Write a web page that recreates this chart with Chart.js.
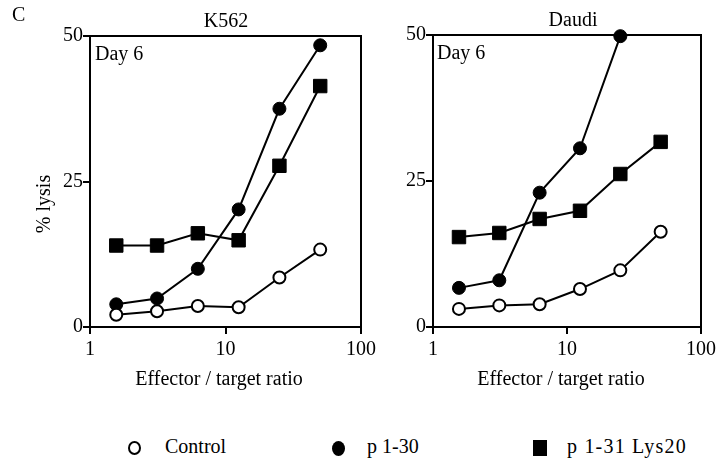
<!DOCTYPE html>
<html>
<head>
<meta charset="utf-8">
<script src="https://cdn.jsdelivr.net/npm/chart.js@4/dist/chart.umd.min.js"></script>
<style>
    body { margin: 0; background: #fff; width: 720px; height: 464px; position: relative; overflow: hidden;
           font-family: "Liberation Serif", "Times New Roman", serif; color: #000; }
    canvas { position: absolute; top: 0; }
    #k562Chart { left: 0; }
    #daudiChart { left: 380px; }
    .lg-text { position: absolute; top: 436px; font-size: 20px; line-height: 20px; white-space: nowrap; }
    .lg-mark { position: absolute; box-sizing: border-box; background: #000; }
</style>
</head>
<body>
<canvas id="k562Chart" width="380" height="400"></canvas>
<canvas id="daudiChart" width="340" height="400"></canvas>

<!-- leyenda común -->
<div class="lg-mark" style="left:128px;top:441px;width:13px;height:14px;border-radius:50%;background:#fff;border:2.5px solid #000;"></div>
<div class="lg-text" style="left:165px;">Control</div>
<div class="lg-mark" style="left:332px;top:441px;width:13px;height:15px;border-radius:50%;"></div>
<div class="lg-text" style="left:367px;">p 1-30</div>
<div class="lg-mark" style="left:533px;top:440px;width:14px;height:16px;"></div>
<div class="lg-text" style="left:567px;letter-spacing:1.2px;">p 1-31 Lys20</div>

<script>
// Datos
const ratios = [1.5625, 3.125, 6.25, 12.5, 25, 50];
const xTickValues = [1, 10, 100];
const yTickValues = [0, 25, 50];
const seriesNames = ['Control', 'p 1-30', 'p 1-31 Lys20'];

const k562Control = [2.1, 2.7, 3.6, 3.4, 8.5, 13.3];
const k562P130 = [3.9, 4.9, 10.0, 20.2, 37.5, 48.4];
const k562Lys20 = [14.0, 14.0, 16.1, 14.9, 27.7, 41.4];

const daudiControl = [3.1, 3.7, 3.9, 6.5, 9.7, 16.3];
const daudiP130 = [6.7, 8.0, 23.0, 30.6, 49.8];
const daudiLys20 = [15.4, 16.1, 18.5, 19.9, 26.2, 31.7];

const SERIF = '"Liberation Serif", "Times New Roman", serif';

/**
 * Marco superior y derecho del área
 */
const frameBox = {
    id: 'frameBox',
    beforeDatasetsDraw(chart) {
        const { ctx, chartArea: a } = chart;
        ctx.save();
        ctx.strokeStyle = '#000';
        ctx.lineWidth = 2;
        ctx.beginPath();
        ctx.moveTo(a.left, a.top);
        ctx.lineTo(a.right, a.top);
        ctx.lineTo(a.right, a.bottom);
        ctx.stroke();
        ctx.restore();
    }
};

/**
 * Textos del panel (título, día, ejes)
 */
const panelText = {
    id: 'panelText',
    afterDraw(chart, args, opts) {
        const ctx = chart.ctx;
        ctx.save();
        ctx.fillStyle = '#000';
        ctx.font = '20px ' + SERIF;
        (opts.items || []).forEach(it => {
            ctx.save();
            ctx.translate(it.x, it.y);
            if (it.rotate) ctx.rotate(it.rotate);
            ctx.textAlign = it.align || 'left';
            ctx.textBaseline = 'alphabetic';
            ctx.fillText(it.text, 0, 0);
            ctx.restore();
        });
        ctx.restore();
    }
};

function makeDatasets(control, p130, lys20) {
    const toPoints = vals => vals.map((v, i) => ({ x: ratios[i], y: v }));
    // el dataset 0 se dibuja encima
    return [
        {
            label: seriesNames[0],
            data: toPoints(control),
            borderColor: '#000',
            borderWidth: 2,
            pointStyle: 'circle',
            pointRadius: 6,
            pointBackgroundColor: '#fff',
            pointBorderColor: '#000',
            pointBorderWidth: 2,
            tension: 0,
            clip: false
        },
        {
            label: seriesNames[1],
            data: toPoints(p130),
            borderColor: '#000',
            borderWidth: 2,
            pointStyle: 'circle',
            pointRadius: 6.5,
            pointBackgroundColor: '#000',
            pointBorderColor: '#000',
            pointBorderWidth: 1,
            tension: 0,
            clip: false
        },
        {
            label: seriesNames[2],
            data: toPoints(lys20),
            borderColor: '#000',
            borderWidth: 2,
            pointStyle: 'rect',
            pointRadius: 9.5,
            pointBackgroundColor: '#000',
            pointBorderColor: '#000',
            pointBorderWidth: 1,
            tension: 0,
            clip: false
        }
    ];
}

function axisGrid() {
    return {
        display: true,
        drawOnChartArea: false,
        drawTicks: true,
        tickLength: 7,
        color: '#000',
        lineWidth: 2
    };
}

function makeChart(canvasId, datasets, yWidth, padTop, textItems) {
    return new Chart(document.getElementById(canvasId), {
        type: 'line',
        data: { datasets },
        plugins: [frameBox, panelText],
        options: {
            responsive: false,
            animation: false,
            events: [],
            layout: { padding: { top: padTop, right: 16, left: 0, bottom: 0 } },
            scales: {
                x: {
                    type: 'logarithmic',
                    min: 1,
                    max: 100,
                    afterBuildTicks: s => { s.ticks = xTickValues.map(v => ({ value: v })); },
                    afterFit: s => { s.height = 73; },
                    ticks: {
                        callback: v => String(v),
                        autoSkip: false,
                        maxRotation: 0,
                        padding: 4,
                        color: '#000',
                        font: { family: SERIF, size: 20 }
                    },
                    grid: axisGrid(),
                    border: { display: true, color: '#000', width: 2 }
                },
                y: {
                    type: 'linear',
                    min: 0,
                    max: 50,
                    afterBuildTicks: s => { s.ticks = yTickValues.map(v => ({ value: v })); },
                    afterFit: s => { s.width = yWidth; },
                    ticks: {
                        padding: 0,
                        color: '#000',
                        font: { family: SERIF, size: 20 }
                    },
                    grid: axisGrid(),
                    border: { display: true, color: '#000', width: 2 }
                }
            },
            plugins: {
                legend: { display: false },
                tooltip: { enabled: false },
                panelText: { items: textItems }
            }
        }
    });
}

makeChart('k562Chart', makeDatasets(k562Control, k562P130, k562Lys20), 90, 36, [
    { text: 'C', x: 12, y: 21 },
    { text: 'K562', x: 226, y: 27, align: 'center' },
    { text: 'Day 6', x: 95, y: 60 },
    { text: 'Effector / target ratio', x: 219, y: 385, align: 'center' },
    { text: '% lysis', x: 50, y: 204, align: 'center', rotate: -Math.PI / 2 }
]);

makeChart('daudiChart', makeDatasets(daudiControl, daudiP130, daudiLys20), 53, 35, [
    { text: 'Daudi', x: 193, y: 26, align: 'center' },
    { text: 'Day 6', x: 57, y: 59 },
    { text: 'Effector / target ratio', x: 181, y: 385, align: 'center' }
]);
</script>
</body>
</html>
